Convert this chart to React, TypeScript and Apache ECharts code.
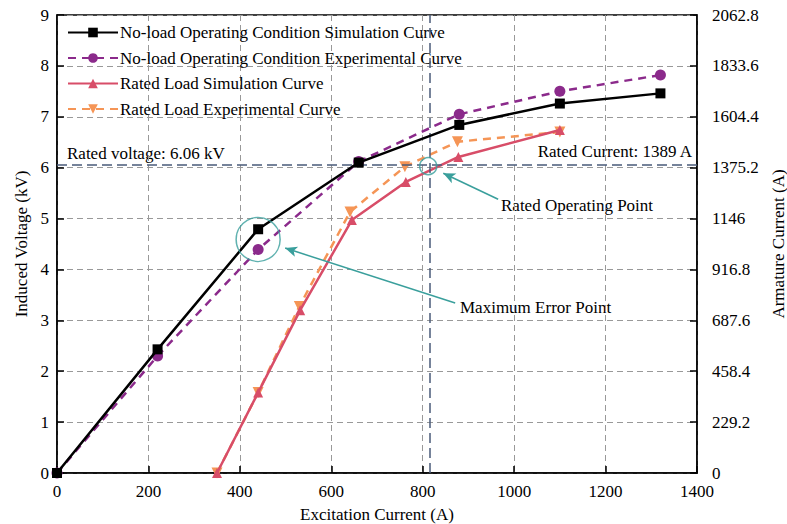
import React, { useEffect, useRef } from "react";
import * as echarts from "echarts";

const xNoLoad = [0, 220, 440, 660, 880, 1100, 1320];
const noLoadSim = [0, 2.43, 4.79, 6.1, 6.84, 7.26, 7.46];
const noLoadExp = [0, 2.3, 4.39, 6.12, 7.05, 7.5, 7.82];
const xLoadSim = [350, 440, 532, 645, 763, 878, 1100];
const loadSim = [0, 1.58, 3.2, 4.97, 5.72, 6.21, 6.74];
const xLoadExp = [350, 440, 530, 641, 761, 876, 1100];
const loadExp = [0, 1.58, 3.27, 5.13, 6.02, 6.51, 6.7];

const seriesNames = [
  "No-load Operating Condition Simulation Curve",
  "No-load Operating Condition Experimental Curve",
  "Rated Load Simulation Curve",
  "Rated Load Experimental Curve",
];

const ratedVoltage = 6.06;
const ratedExcitation = 815;
const maxErrorPoint = [440, 4.59];
const ratedPoint = [812, 6.03];
const arrowRated = [[965, 5.38], [845, 5.89]];
const arrowMaxErr = [[871, 3.34], [499, 4.42]];

const FONT = "Liberation Serif";
const FS = 17;
const TEAL = "#3a9f9c";
const SLATE = "#4a5b7a";

const zip = (xs: number[], ys: number[]) => xs.map((x, i) => [x, ys[i]]);

export default function App() {
  const ref = useRef<HTMLDivElement>(null);
  useEffect(() => {
    if (!ref.current) return;
    const chart = echarts.init(ref.current, undefined, { renderer: "svg" });
    const fmt = (v: number) => String(parseFloat(v.toFixed(1)));
    chart.setOption({
      animation: false,
      textStyle: { fontFamily: FONT },
      grid: {
        left: 57,
        right: 90,
        top: 15,
        bottom: 51,
        outerBoundsMode: "none",
        containLabel: false,
        show: true,
        borderColor: "#000",
        borderWidth: 1.5,
      },
      legend: {
        orient: "vertical",
        left: 62,
        top: 19,
        itemWidth: 50,
        itemHeight: 12,
        itemGap: 8.5,
        data: seriesNames,
        textStyle: { fontFamily: FONT, fontSize: FS, color: "#000", padding: [0, 0, 0, -3] },
      },
      xAxis: {
        type: "value",
        min: 0,
        max: 1400,
        interval: 200,
        name: "Excitation Current (A)",
        nameLocation: "middle",
        nameGap: 33,
        nameTextStyle: { fontFamily: FONT, fontSize: FS, color: "#000" },
        axisLine: { lineStyle: { color: "#000", width: 1.5 } },
        axisTick: { inside: true, length: 7, lineStyle: { color: "#000", width: 1.5 } },
        axisLabel: { fontFamily: FONT, fontSize: FS, color: "#000", margin: 10, formatter: fmt },
        splitLine: { lineStyle: { color: "#999", type: [6, 4], width: 1 } },
      },
      yAxis: [
        {
          type: "value",
          min: 0,
          max: 9,
          interval: 1,
          name: "Induced Voltage (kV)",
          nameLocation: "middle",
          nameGap: 27,
          nameTextStyle: { fontFamily: FONT, fontSize: FS, color: "#000" },
          axisLine: { show: true, lineStyle: { color: "#000", width: 1.5 } },
          axisTick: { show: true, inside: true, length: 7, lineStyle: { color: "#000", width: 1.5 } },
          axisLabel: { fontFamily: FONT, fontSize: FS, color: "#000", margin: 8 },
          splitLine: { lineStyle: { color: "#999", type: [6, 4], width: 1 } },
        },
        {
          type: "value",
          position: "right",
          min: 0,
          max: 2062.8,
          interval: 229.2,
          name: "Armature Current (A)",
          nameLocation: "middle",
          nameGap: 70,
          nameTextStyle: { fontFamily: FONT, fontSize: FS, color: "#000" },
          axisLine: { show: true, lineStyle: { color: "#000", width: 1.5 } },
          axisTick: { show: true, inside: true, length: 7, lineStyle: { color: "#000", width: 1.5 } },
          axisLabel: { fontFamily: FONT, fontSize: FS, color: "#000", margin: 15, formatter: fmt },
          splitLine: { show: false },
        },
      ],
      series: [
        {
          name: seriesNames[0],
          type: "line",
          data: zip(xNoLoad, noLoadSim),
          color: "#000",
          symbol: "rect",
          symbolSize: 10,
          lineStyle: { width: 2.5, color: "#000" },
          z: 5,
          markLine: {
            silent: true,
            symbol: ["none", "none"],
            label: { show: false },
            lineStyle: { color: SLATE, type: [10, 5], width: 1.5 },
            data: [
              [{ coord: [0, ratedVoltage] }, { coord: [1400, ratedVoltage] }],
              [{ coord: [ratedExcitation, 0] }, { coord: [ratedExcitation, 9] }],
            ],
          },
        },
        {
          name: seriesNames[1],
          type: "line",
          data: zip(xNoLoad, noLoadExp),
          color: "#8b2a8b",
          symbol: "circle",
          symbolSize: 11,
          lineStyle: { width: 2.5, color: "#8b2a8b", type: [8, 6] },
          z: 4,
        },
        {
          name: seriesNames[2],
          type: "line",
          data: zip(xLoadSim, loadSim),
          color: "#d84d68",
          symbol: "triangle",
          symbolSize: 10,
          lineStyle: { width: 2.5, color: "#d84d68" },
          z: 4,
        },
        {
          name: seriesNames[3],
          type: "line",
          data: zip(xLoadExp, loadExp),
          color: "#f59556",
          symbol: "triangle",
          symbolRotate: 180,
          symbolSize: 11,
          lineStyle: { width: 2.5, color: "#f59556", type: [8, 6] },
          z: 3,
        },
        {
          name: "annotations",
          type: "scatter",
          symbol: "circle",
          silent: true,
          itemStyle: { color: "none", borderColor: TEAL, borderWidth: 1.5 },
          data: [
            { value: maxErrorPoint, symbolSize: 44 },
            { value: ratedPoint, symbolSize: 17 },
          ],
          z: 6,
          markLine: {
            silent: true,
            symbol: ["none", "arrow"],
            symbolSize: [8, 12],
            label: { show: false },
            lineStyle: { color: TEAL, type: "solid", width: 1.5 },
            data: [
              [{ coord: arrowRated[0] }, { coord: arrowRated[1] }],
              [{ coord: arrowMaxErr[0] }, { coord: arrowMaxErr[1] }],
            ],
          },
        },
      ],
      graphic: [
        {
          type: "text",
          left: 67,
          top: 145,
          style: { text: "Rated voltage: 6.06 kV", fontFamily: FONT, fontSize: FS, fill: "#000" },
        },
        {
          type: "text",
          right: 94,
          top: 143,
          style: { text: "Rated Current: 1389 A", fontFamily: FONT, fontSize: FS, fill: "#000" },
        },
        {
          type: "text",
          left: 501,
          top: 197,
          style: { text: "Rated Operating Point", fontFamily: FONT, fontSize: FS, fill: "#000" },
        },
        {
          type: "text",
          left: 460,
          top: 299,
          style: { text: "Maximum Error Point", fontFamily: FONT, fontSize: FS, fill: "#000" },
        },
      ],
    });
    return () => chart.dispose();
  }, []);
  return (
    <div
      ref={ref}
      style={{ position: "fixed", left: 0, top: 0, width: 787, height: 524, background: "#fff" }}
    />
  );
}
